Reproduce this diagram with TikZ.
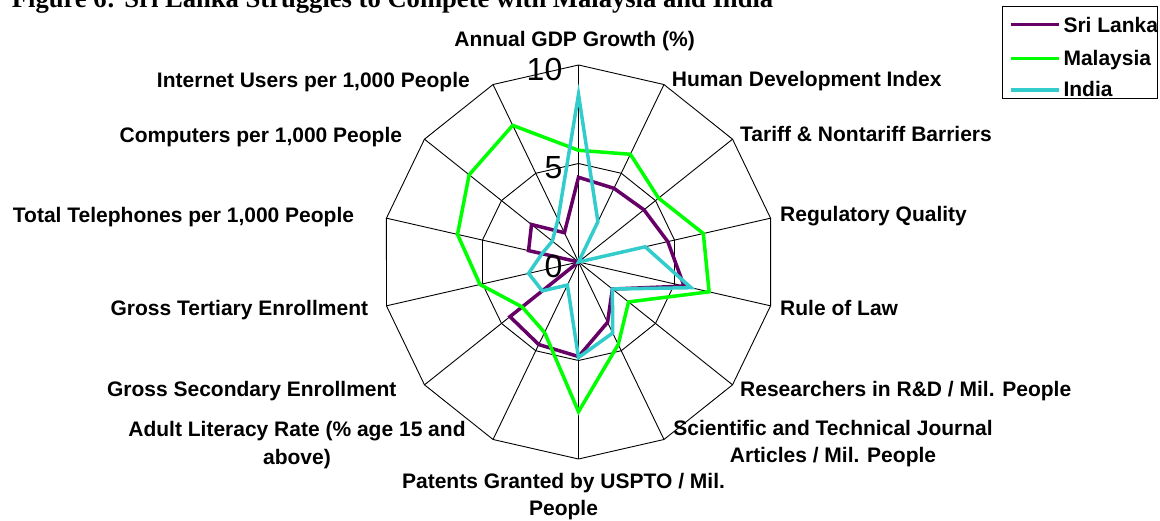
\documentclass[tikz,border=0pt]{standalone}
\usepackage{fontspec}
\setmainfont{Liberation Sans}
\newfontfamily\titlefont{Liberation Serif}
\usetikzlibrary{calc}
\definecolor{slcol}{RGB}{102,0,102}
\definecolor{mycol}{RGB}{0,255,0}
\definecolor{incol}{RGB}{51,204,204}
\begin{document}
\begin{tikzpicture}[x=1pt,y=-1pt,
  lab/.style={font=\fontsize{21}{27.5}\selectfont\bfseries, inner sep=0pt},
  twoline/.style={lab, anchor=base},
  ticklab/.style={font=\fontsize{32}{36}\selectfont, inner sep=0pt, anchor=base east},
  gridline/.style={draw=black, line width=0.9pt},
  series/.style={line width=3.5pt, line join=miter},
]
\useasboundingbox (0,0) rectangle (1160,520);
\coordinate (C) at (578.5,262);
\def\R{197}
% title (cut at the top as in the reference)
\node[anchor=base west, inner sep=0pt, font={\titlefont\bfseries\fontsize{26.6}{30}\selectfont}] (title) at (11.7,7) {Figure 6: Sri Lanka Struggles to Compete with Malaysia and India};
% grid
\foreach \i in {0,...,13} \coordinate (o\i) at ($(C)+(-90+\i*360/14:\R)$);
\foreach \i in {0,...,13} \coordinate (h\i) at ($(C)+(-90+\i*360/14:\R/2)$);
\draw[gridline] (o0) \foreach \i in {1,...,13}{ -- (o\i)} -- cycle;
\draw[gridline] (h0) \foreach \i in {1,...,13}{ -- (h\i)} -- cycle;
\foreach \i in {0,...,13} \draw[gridline] (C) -- (o\i);
% data
\foreach \v [count=\i from 0] in {4.3,4.15,4.25,4.65,5.5,2.2,3.4,4.8,4.65,4.45,0,2.6,3.05,1.65}
  \coordinate (sl\i) at ($(C)+(-90+\i*360/14:\v*19.7)$);
\foreach \v [count=\i from 0] in {5.67,6.07,5.2,6.5,6.8,3.25,4.65,7.6,3.97,3.66,5.13,6.3,7.1,7.7}
  \coordinate (my\i) at ($(C)+(-90+\i*360/14:\v*19.7)$);
\foreach \v [count=\i from 0] in {8.5,2.27,0,3.47,5.86,2.2,4.0,4.85,1.3,2.35,2.6,1.9,1.7,2.4}
  \coordinate (in\i) at ($(C)+(-90+\i*360/14:\v*19.7)$);
\draw[series, slcol] (sl0) \foreach \i in {1,...,13}{ -- (sl\i)} -- cycle;
\draw[series, mycol] (my0) \foreach \i in {1,...,13}{ -- (my\i)} -- cycle;
\draw[series, incol] (in0) \foreach \i in {1,...,13}{ -- (in\i)} -- cycle;
% scale labels
\node[ticklab] (t10) at (562.5,80) {10};
\node[ticklab] (t5) at (562.5,178) {5};
\node[ticklab] (t0) at (562.5,277) {0};
% axis labels
\node[lab, anchor=base] (gdp) at (574.6,46.7) {Annual GDP Growth (\%)};
\node[lab, anchor=base west] (hdi) at (671.7,86.7) {Human Development Index};
\node[lab, anchor=base west] (tar) at (740,141.7) {Tariff \& Nontariff Barriers};
\node[lab, anchor=base west] (reg) at (780,221.7) {Regulatory Quality};
\node[lab, anchor=base west] (rol) at (780,315) {Rule of Law};
\node[lab, anchor=base west] (res) at (740,396) {Researchers in R\&D / Mil. People};
\node[twoline] (sci) at (833,435) {\fontsize{21}{27.5}\selectfont\setlength{\tabcolsep}{0pt}\begin{tabular}[t]{c}Scientific and Technical Journal\\Articles / Mil. People\end{tabular}};
\node[twoline] (pat) at (563.5,488.3) {\fontsize{21}{27.5}\selectfont\setlength{\tabcolsep}{0pt}\begin{tabular}[t]{c}Patents Granted by USPTO / Mil.\\People\end{tabular}};
\node[twoline] (adl) at (297,436.7) {\fontsize{21}{27.5}\selectfont\setlength{\tabcolsep}{0pt}\begin{tabular}[t]{c}Adult Literacy Rate (\% age 15 and\\above)\end{tabular}};
\node[lab, anchor=base east] (gse) at (396.7,396.7) {Gross Secondary Enrollment};
\node[lab, anchor=base east] (gte) at (368.3,315) {Gross Tertiary Enrollment};
\node[lab, anchor=base east] (tel) at (354.3,222.7) {Total Telephones per 1,000 People};
\node[lab, anchor=base east] (com) at (402.3,142.3) {Computers per 1,000 People};
\node[lab, anchor=base east] (int) at (470,87.3) {Internet Users per 1,000 People};
% legend
\coordinate (lg1) at (1002.7,6.7);
\coordinate (lg2) at (1157.3,98.3);
\draw[line width=0.9pt] (lg1) rectangle (lg2);
\coordinate (a1) at (1010.7,24.3); \coordinate (b1) at (1059,24.3);
\coordinate (a2) at (1010.7,58.3); \coordinate (b2) at (1059,58.3);
\coordinate (a3) at (1010.7,90);   \coordinate (b3) at (1059,90);
\draw[series, slcol] (a1) -- (b1);
\draw[series, mycol] (a2) -- (b2);
\draw[series, incol] (a3) -- (b3);
\node[lab, anchor=base west] (l1) at (1063.3,32.7) {Sri Lanka};
\node[lab, anchor=base west] (l2) at (1063.3,65) {Malaysia};
\node[lab, anchor=base west] (l3) at (1063.3,96.7) {India};
\end{tikzpicture}
\end{document}
